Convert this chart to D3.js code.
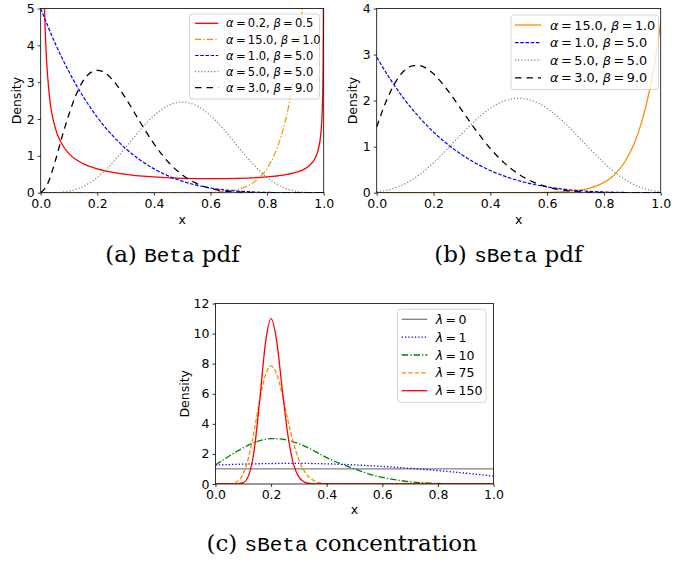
<!DOCTYPE html>
<html><head><meta charset="utf-8">
<script src="https://cdn.jsdelivr.net/npm/d3@7"></script>
<style>body{margin:0;background:#fff} svg{display:block}</style>
</head><body><svg id="chart" width="694" height="563"></svg>
<script>
// ================= DATA =================
const xTicks = [0, 0.2, 0.4, 0.6, 0.8, 1.0];
const yTicksA = [0, 1, 2, 3, 4, 5];
const yTicksB = [0, 1, 2, 3, 4];
const yTicksC = [0, 2, 4, 6, 8, 10, 12];

// (a) Beta pdf
const aRedX = [0.005,0.01,0.015,0.02,0.03,0.05,0.075,0.1,0.15,0.2,0.3,0.4,0.5,0.6,0.7,0.8,0.85,0.9,0.95,0.97,0.98,0.99,0.995,0.998,0.999];
const aRedY = [11.08,6.38,4.63,3.69,2.68,1.80,1.32,1.06,0.79,0.65,0.50,0.43,0.39,0.38,0.39,0.43,0.47,0.55,0.74,0.94,1.15,1.61,2.27,3.57,5.05];
const aOrangeX = [0,0.3,0.5,0.6,0.65,0.7,0.75,0.8,0.825,0.85,0.875,0.9,0.91,0.92,0.93,0.94];
const aOrangeY = [0,0,0.001,0.012,0.036,0.102,0.267,0.66,1.015,1.54,2.31,3.43,4.01,4.67,5.43,6.31];
const aBlueX = [0,0.05,0.1,0.15,0.2,0.25,0.3,0.35,0.4,0.45,0.5,0.55,0.6,0.65,0.7,0.8,0.9,1.0];
const aBlueY = [5,4.073,3.281,2.61,2.048,1.582,1.201,0.893,0.648,0.458,0.313,0.205,0.128,0.075,0.041,0.008,0.0005,0];
const aGreyX = [0,0.05,0.1,0.15,0.2,0.25,0.3,0.35,0.4,0.45,0.5,0.55,0.6,0.65,0.7,0.75,0.8,0.85,0.9,0.95,1.0];
const aGreyY = [0,0.003,0.041,0.167,0.413,0.779,1.225,1.688,2.09,2.364,2.461,2.364,2.09,1.688,1.225,0.779,0.413,0.167,0.041,0.003,0];
const aBlackX = [0,0.025,0.05,0.075,0.1,0.125,0.15,0.175,0.2,0.225,0.25,0.3,0.35,0.4,0.45,0.5,0.55,0.6,0.7,0.8,1.0];
const aBlackY = [0,0.253,0.821,1.505,2.131,2.658,3.035,3.253,3.322,3.262,3.097,2.568,1.932,1.33,0.839,0.483,0.252,0.117,0.016,0.001,0];

// (b) sBeta pdf
const bOrangeX = [0,0.5,0.6,0.7,0.75,0.8,0.825,0.85,0.875,0.9,0.925,0.95,0.975,1.0];
const bOrangeY = [0,0.001,0.007,0.043,0.1,0.223,0.327,0.475,0.683,0.974,1.376,1.928,2.68,3.698];
const bBlueX = [0,0.05,0.1,0.15,0.2,0.25,0.3,0.35,0.4,0.45,0.5,0.55,0.6,0.65,0.7,0.75,0.8,0.85,0.9,0.95,1.0];
const bBlueY = [2.942,2.443,2.009,1.637,1.318,1.049,0.823,0.636,0.482,0.359,0.26,0.184,0.126,0.082,0.051,0.03,0.016,0.008,0.003,0.001,0.0002];
const bGreyX = [0,0.05,0.1,0.15,0.2,0.25,0.3,0.35,0.4,0.45,0.5,0.55,0.6,0.65,0.7,0.75,0.8,0.85,0.9,0.95,1.0];
const bGreyY = [0.018,0.075,0.195,0.389,0.649,0.957,1.28,1.584,1.832,1.995,2.051,1.995,1.832,1.584,1.28,0.957,0.649,0.389,0.195,0.075,0.018];
const bBlackX = [0,0.025,0.05,0.075,0.1,0.125,0.15,0.175,0.2,0.225,0.25,0.3,0.35,0.4,0.45,0.5,0.55,0.6,0.7,0.8,0.9,1.0];
const bBlackY = [1.428,1.857,2.215,2.486,2.665,2.754,2.762,2.701,2.581,2.418,2.223,1.788,1.351,0.96,0.642,0.403,0.236,0.128,0.028,0.0035,0.0002,0];

// (c) sBeta concentration
const cGreyX = [0, 1];
const cGreyY = [1, 1];
const cBlueX = [0,0.1,0.2,0.3,0.4,0.5,0.6,0.7,0.8,0.9,1.0];
const cBlueY = [1.26,1.32,1.36,1.37,1.34,1.27,1.17,1.04,0.89,0.72,0.52];
const cGreenX = [0,0.04,0.08,0.12,0.16,0.2,0.24,0.28,0.32,0.36,0.4,0.45,0.5,0.55,0.6,0.65,0.7,0.75,0.8,0.85,0.9,1.0];
const cGreenY = [1.26,1.75,2.2,2.6,2.88,3.02,2.98,2.8,2.52,2.15,1.75,1.35,1.0,0.68,0.44,0.27,0.15,0.08,0.035,0.012,0.003,0];
const cOrangeX = [0,0.05,0.08,0.1,0.12,0.14,0.16,0.18,0.2,0.22,0.24,0.26,0.28,0.3,0.32,0.34,0.36,0.38,0.4,0.45,0.5,1.0];
const cOrangeY = [0,0.009,0.18,0.7,1.84,3.63,5.67,7.26,7.85,7.3,5.95,4.29,2.76,1.6,0.84,0.4,0.17,0.07,0.025,0.002,0,0];
const cRedX = [0,0.05,0.08,0.1,0.12,0.14,0.16,0.18,0.2,0.22,0.24,0.26,0.28,0.3,0.32,0.34,0.36,0.4,1.0];
const cRedY = [0,0,0.006,0.087,0.605,2.36,5.75,9.42,11.0,9.52,6.32,3.29,1.36,0.458,0.126,0.029,0.005,0,0];

// legend labels
const legendA = [["0.2","0.5"],["15.0","1.0"],["1.0","5.0"],["5.0","5.0"],["3.0","9.0"]];
const legendB = [["15.0","1.0"],["1.0","5.0"],["5.0","5.0"],["3.0","9.0"]];
const legendC = ["0","1","10","75","150"];

// captions
const captionA = ["(a) ", "Beta", " pdf"];
const captionB = ["(b) ", "sBeta", " pdf"];
const captionC = ["(c) ", "sBeta", " concentration"];

// ================= STYLES =================
const ST = {
  red:   {stroke:"#ff0000", dash:null, w:1.3},
  oDD:   {stroke:"#ff8c00", dash:"6.5,2,1.3,2", w:1.2},
  oSolid:{stroke:"#ff8c00", dash:null, w:1.3},
  blueD: {stroke:"#0000ff", dash:"3.6,1.6", w:1.2},
  greyDot:{stroke:"#808080", dash:"1.2,2", w:1.2},
  blackD:{stroke:"#000000", dash:"6.5,5", w:1.3},
  grey:  {stroke:"#808080", dash:null, w:1.3},
  blueDot:{stroke:"#0000ff", dash:"1.3,2", w:1.3},
  greenDD:{stroke:"#008000", dash:"6.5,2,1.3,2", w:1.3},
  oD:    {stroke:"#ff8c00", dash:"4.5,2", w:1.3},
};

const svg = d3.select("#chart");
const SANS = "DejaVu Sans";
const zip = (xs, ys) => xs.map((v,i)=>[v, ys[i]]);

function panel(P) {
  const x = d3.scaleLinear().domain([0,1]).range([P.x0, P.x1]);
  const y = d3.scaleLinear().domain([0,P.yMax]).range([P.yBot, P.yTop]);
  const g = svg.append("g");
  const cid = "clip" + P.id;
  g.append("clipPath").attr("id", cid).append("rect")
    .attr("x", P.x0).attr("y", P.yTop).attr("width", P.x1-P.x0).attr("height", P.yBot-P.yTop);
  const line = d3.line().x(d=>x(d[0])).y(d=>y(d[1])).curve(d3.curveMonotoneX);
  const lg = g.append("g").attr("clip-path", `url(#${cid})`);
  P.series.forEach(s => {
    lg.append("path").attr("d", line(zip(s.x, s.y)))
      .attr("fill","none").attr("stroke", s.st.stroke).attr("stroke-width", s.st.w)
      .attr("stroke-dasharray", s.st.dash);
  });
  // axes
  const ax = g.append("g").attr("transform", `translate(0,${P.yBot})`)
    .call(d3.axisBottom(x).tickValues(xTicks).tickFormat(d3.format(".1f")).tickSize(3).tickPadding(3));
  const ay = g.append("g").attr("transform", `translate(${P.x0},0)`)
    .call(d3.axisLeft(y).tickValues(P.yTicks).tickFormat(d3.format("d")).tickSize(3).tickPadding(3));
  [ax, ay].forEach(a => {
    a.select(".domain").remove();
    a.selectAll("text").attr("font-family", SANS).attr("font-size", P.tickFs).attr("fill","#000");
    a.selectAll("line").attr("stroke","#000").attr("stroke-width",0.8);
  });
  g.append("rect").attr("x", P.x0).attr("y", P.yTop).attr("width", P.x1-P.x0).attr("height", P.yBot-P.yTop)
    .attr("fill","none").attr("stroke","#000").attr("stroke-width",0.8);
  // axis labels
  g.append("text").attr("x", (P.x0+P.x1)/2).attr("y", P.xlabY).attr("text-anchor","middle")
    .attr("font-family", SANS).attr("font-size", P.tickFs).text("x");
  g.append("text").attr("transform", `translate(${P.ylabX},${(P.yTop+P.yBot)/2}) rotate(-90)`)
    .attr("text-anchor","middle").attr("font-family", SANS).attr("font-size", P.tickFs).text("Density");
  // legend
  const L = P.legend;
  const lgd = g.append("g");
  lgd.append("rect").attr("x", L.x).attr("y", L.y).attr("width", L.w).attr("height", L.h).attr("rx", 2.5)
    .attr("fill","#fff").attr("fill-opacity",0.8).attr("stroke","#cccccc").attr("stroke-width",0.8);
  L.items.forEach((it, i) => {
    const yy = L.row0 + i*L.step;
    lgd.append("line").attr("x1", L.lx0).attr("x2", L.lx1).attr("y1", yy).attr("y2", yy)
      .attr("stroke", it.st.stroke).attr("stroke-width", it.st.w).attr("stroke-dasharray", it.st.dash);
    const t = lgd.append("text").attr("x", L.tx).attr("y", yy).attr("dy","0.36em")
      .attr("font-family", SANS).attr("font-size", L.fs).attr("fill","#000");
    it.parts.forEach(p => {
      const ts = t.append("tspan").text(p[0]);
      if (p[1]) ts.attr("font-style","italic");
    });
  });
}

function greekAB(pair) {
  return [["α",1],["\u2009=\u2009"+pair[0]+", ",0],["β",1],["\u2009=\u2009"+pair[1],0]];
}

// ---- panel a ----
const aSeries = [
  {x:aRedX, y:aRedY, st:ST.red},
  {x:aOrangeX, y:aOrangeY, st:ST.oDD},
  {x:aBlueX, y:aBlueY, st:ST.blueD},
  {x:aGreyX, y:aGreyY, st:ST.greyDot},
  {x:aBlackX, y:aBlackY, st:ST.blackD},
];
panel({id:"a", x0:40.7, x1:323.7, yTop:8.5, yBot:192.7, yMax:5, yTicks:yTicksA, tickFs:12.5,
  xlabY:224, ylabX:20.5, series:aSeries,
  legend:{x:189.5, y:14, w:130, h:85, row0:23.3, step:16.1, lx0:195, lx1:218.3, tx:226, fs:11.5,
    items: aSeries.map((s,i)=>({st:s.st, parts:greekAB(legendA[i])}))}});

// ---- panel b ----
const bSeries = [
  {x:bOrangeX, y:bOrangeY, st:ST.oSolid},
  {x:bBlueX, y:bBlueY, st:ST.blueD},
  {x:bGreyX, y:bGreyY, st:ST.greyDot},
  {x:bBlackX, y:bBlackY, st:ST.blackD},
];
panel({id:"b", x0:376.7, x1:660.7, yTop:8.5, yBot:192.7, yMax:4, yTicks:yTicksB, tickFs:12.5,
  xlabY:224, ylabX:357.4, series:bSeries,
  legend:{x:511, y:15, w:147.5, h:74.5, row0:25, step:17.6, lx0:515, lx1:541, tx:550, fs:12.8,
    items: bSeries.map((s,i)=>({st:s.st, parts:greekAB(legendB[i])}))}});

// ---- panel c ----
const cSeries = [
  {x:cGreyX, y:cGreyY, st:ST.grey},
  {x:cBlueX, y:cBlueY, st:ST.blueDot},
  {x:cGreenX, y:cGreenY, st:ST.greenDD},
  {x:cOrangeX, y:cOrangeY, st:ST.oD},
  {x:cRedX, y:cRedY, st:ST.red},
];
panel({id:"c", x0:215.5, x1:493.5, yTop:303.5, yBot:484, yMax:12, yTicks:yTicksC, tickFs:12.5,
  xlabY:514, ylabX:189, series:cSeries,
  legend:{x:397.7, y:309.3, w:88.3, h:93, row0:319.3, step:17.85, lx0:401.7, lx1:427.3, tx:435.7, fs:12.5,
    items: cSeries.map((s,i)=>({st:s.st, parts:[["λ",1],["\u2009=\u2009"+legendC[i],0]]}))}});

// ---- captions ----
function caption(parts, cx, by) {
  const t = svg.append("text").attr("x", cx).attr("y", by).attr("text-anchor","middle")
    .attr("font-family","DejaVu Serif").attr("font-size",23).attr("fill","#000")
    .attr("xml:space","preserve");
  parts.forEach((p,i) => {
    const ts = t.append("tspan").text(p);
    if (i === 1) ts.attr("font-family","Liberation Mono").attr("font-size",21);
  });
}
caption(captionA, 172.5, 262);
caption(captionB, 508.3, 262);
caption(captionC, 341.7, 551);
</script></body></html>
